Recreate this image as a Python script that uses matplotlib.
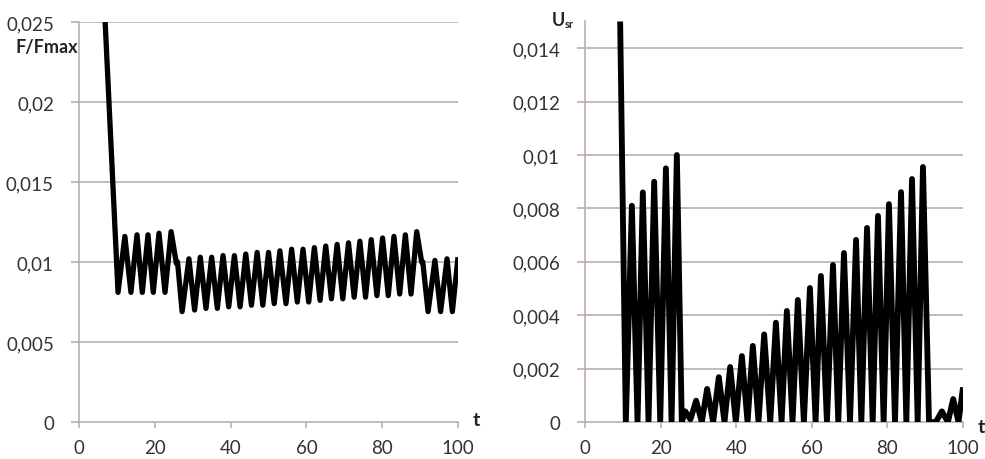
import matplotlib
matplotlib.use("Agg")
import matplotlib.pyplot as plt

plt.rcParams['font.family'] = ['Lato', 'DejaVu Sans']

# relative force F/Fmax over time (peaks and troughs of the oscillation)
f_t = [6.9, 10.3, 12.1, 13.7, 15.3, 16.7, 18.2, 19.6, 21.1, 22.7, 24.3, 25.7, 26.0, 27.2,
       29.0, 30.5, 32.0, 33.5, 35.0, 36.5, 38.0, 39.5, 41.0, 42.5, 44.0, 45.5, 47.0, 48.5,
       50.0, 51.5, 53.0, 54.6, 56.1, 57.6, 59.1, 60.6, 62.1, 63.6, 65.1, 66.6, 68.1, 69.6,
       71.1, 72.6, 74.1, 75.6, 77.1, 78.6, 80.1, 81.6, 83.1, 84.6, 86.1, 87.6, 89.1,
       90.4, 90.7, 92.1, 93.9, 95.4, 97.1, 98.5, 100.0]
f_val = [0.025, 0.0081, 0.0116, 0.0081, 0.0117, 0.0081, 0.0117, 0.0081, 0.0118, 0.0081, 0.0119,
         0.0099, 0.0100, 0.0069,
         0.0102, 0.0070, 0.0103, 0.0071, 0.0103, 0.0071, 0.0104, 0.0072, 0.0104, 0.0072,
         0.0105, 0.0073, 0.0106, 0.0073, 0.0106, 0.0074, 0.0107, 0.0074, 0.0108, 0.0075,
         0.0108, 0.0075, 0.0109, 0.0076, 0.0110, 0.0077, 0.0111, 0.0077, 0.0112, 0.0078,
         0.0113, 0.0078, 0.0114, 0.0079, 0.0115, 0.0079, 0.0116, 0.0080, 0.0117, 0.0080, 0.0119,
         0.0100, 0.0100, 0.0069, 0.0101, 0.0069, 0.0102, 0.0069, 0.0103]

# U_sr over time
u_t = [9.3, 10.8, 12.4, 13.9, 15.3, 16.8, 18.3, 19.9, 21.4, 22.9, 24.3, 25.6,
       26.5, 27.9, 29.4, 30.9, 32.3, 33.9, 35.4, 36.9, 38.4, 39.9, 41.5, 43.0,
       44.4, 45.9, 47.4, 49.0, 50.5, 52.0, 53.4, 54.9, 56.3, 57.9, 59.5, 61.0,
       62.4, 64.0, 65.6, 67.0, 68.5, 70.1, 71.7, 73.1, 74.6, 76.1, 77.5, 79.0,
       80.4, 82.0, 83.6, 85.0, 86.5, 88.0, 89.4, 91.0, 92.8, 94.4, 96.0, 97.4, 98.8, 100.0]
u_val = [0.015, 0.0, 0.0081, 0.0, 0.0086, 0.0, 0.0090, 0.0, 0.0095, 0.0, 0.0100, 0.0,
         0.0004, 0.0001, 0.0008, 0.0, 0.00124, 0.0, 0.00168, 0.0, 0.00206, 0.0, 0.00247, 0.0,
         0.00285, 0.0, 0.00328, 0.0, 0.00372, 0.0, 0.00416, 0.0, 0.00457, 0.0, 0.00502, 0.0,
         0.00547, 0.0, 0.00588, 0.0, 0.00633, 0.0, 0.00682, 0.0, 0.00727, 0.0, 0.00772, 0.0,
         0.00816, 0.0, 0.00861, 0.0, 0.0091, 0.0, 0.00955, 0.0, 0.0, 0.0004, 0.0, 0.00086, 0.0, 0.0013]

x_ticks = [0, 20, 40, 60, 80, 100]
f_ticks = [0, 0.005, 0.01, 0.015, 0.02, 0.025]
f_labels = ['0', '0,005', '0,01', '0,015', '0,02', '0,025']
u_ticks = [0, 0.002, 0.004, 0.006, 0.008, 0.01, 0.012, 0.014]
u_labels = ['0', '0,002', '0,004', '0,006', '0,008', '0,01', '0,012', '0,014']

grid_col = '#bcaea8'
text_col = '#333333'

fig = plt.figure(figsize=(9.85, 4.6), dpi=100)
ax1 = fig.add_axes([0.0802, 0.0804, 0.3848, 0.8696])
ax2 = fig.add_axes([0.5939, 0.0804, 0.3838, 0.8707])


def style_axes(ax, yticks, ylabels, ymax, grid_ticks):
    ax.set_xlim(0, 100)
    ax.set_ylim(0, ymax)
    ax.set_xticks(x_ticks)
    ax.set_xticklabels([str(v) for v in x_ticks])
    ax.set_yticks(yticks)
    ax.set_yticklabels(ylabels)
    for y in grid_ticks:
        ax.axhline(y, color=grid_col, lw=1.2, zorder=1)
    for s in ['top', 'right']:
        ax.spines[s].set_visible(False)
    for s in ['left', 'bottom']:
        ax.spines[s].set_color(grid_col)
        ax.spines[s].set_linewidth(1.2)
    ax.tick_params(axis='y', direction='out', length=6, width=1.2, color=grid_col,
                   labelsize=13.5, labelcolor=text_col, pad=12)
    ax.tick_params(axis='x', direction='out', length=4, width=1.2, color=grid_col,
                   labelsize=13.5, labelcolor=text_col, pad=8)
    ax.set_facecolor('white')


style_axes(ax1, f_ticks, f_labels, 0.025, f_ticks[1:])
style_axes(ax2, u_ticks, u_labels, 0.015, u_ticks[1:])

ax1.plot(f_t, f_val, color='black', lw=3.8, solid_joinstyle='round',
         solid_capstyle='butt', zorder=3)
ax2.plot(u_t, u_val, color='black', lw=4.2, solid_joinstyle='round',
         solid_capstyle='butt', zorder=3)

# axis captions
fig.text(47 / 985, 1 - 47 / 460, 'F/Fmax', fontsize=13, fontweight='bold',
         color='#222222', ha='center', va='center')
fig.text(552 / 985, 1 - 21 / 460, 'U', fontsize=13, fontweight='bold',
         color='#222222', ha='left', va='center')
fig.text(565 / 985, 1 - 25 / 460, 'sr', fontsize=8, fontweight='bold',
         color='#222222', ha='left', va='center')
fig.text(476 / 985, 1 - 421 / 460, 't', fontsize=14, fontweight='bold',
         color='#222222', ha='center', va='center')
fig.text(981 / 985, 1 - 428 / 460, 't', fontsize=14, fontweight='bold',
         color='#222222', ha='center', va='center')

fig.savefig('out.png', dpi=100, facecolor='white')
